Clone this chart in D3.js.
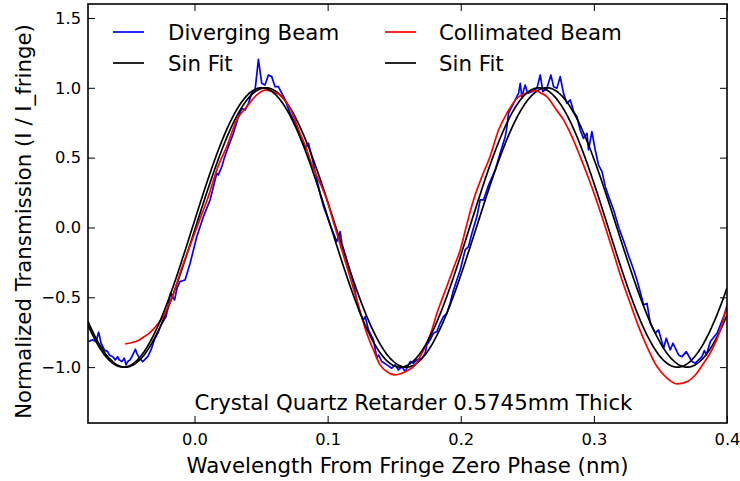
<!DOCTYPE html>
<html>
<head>
<meta charset="utf-8">
<script src="https://cdn.jsdelivr.net/npm/d3@7"></script>
<style>
  html, body { margin: 0; padding: 0; background: #fff; }
  svg { display: block; font-family: "DejaVu Sans", sans-serif; }
</style>
</head>
<body>
<svg id="chart" width="740" height="481"></svg>
<script>
// ---------------- data ----------------
const seriesNames = ["Diverging Beam", "Sin Fit", "Collimated Beam", "Sin Fit"];
const xTicks = [0.0, 0.1, 0.2, 0.3, 0.4];
const yTicks = [-1.0, -0.5, 0.0, 0.5, 1.0, 1.5];
const annotation = "Crystal Quartz Retarder 0.5745mm Thick";
const xTitle = "Wavelength From Fringe Zero Phase (nm)";
const yTitle = "Normalized Transmission (I / I_fringe)";

// Diverging beam measurement (wavelength nm, normalized transmission)
const divergingX = [-0.0795,-0.0765,-0.074,-0.072,-0.0702,-0.0677,-0.0652,-0.064,-0.0614,-0.0595,-0.0577,-0.0565,-0.0545,-0.0527,-0.0514,-0.0502,-0.0484,-0.0464,-0.0444,-0.0434,-0.0414,-0.0389,-0.0351,-0.0327,-0.0302,-0.0276,-0.0251,-0.0214,-0.0197,-0.018,-0.015,-0.013,-0.0109,-0.0071,-0.0033,0.0017,0.0067,0.0117,0.0167,0.0179,0.0205,0.0225,0.0254,0.0292,0.033,0.0355,0.038,0.0405,0.043,0.0455,0.048,0.0505,0.053,0.0555,0.058,0.0605,0.063,0.0656,0.0681,0.0718,0.0768,0.0806,0.0831,0.0856,0.0881,0.0918,0.0944,0.0969,0.1006,0.1044,0.1069,0.1094,0.1107,0.1144,0.1194,0.1219,0.1244,0.1269,0.1282,0.1307,0.1344,0.137,0.1382,0.1407,0.1445,0.1482,0.1507,0.1532,0.1558,0.1582,0.1607,0.162,0.1645,0.167,0.1708,0.1733,0.1745,0.177,0.1795,0.1821,0.1845,0.187,0.1896,0.192,0.1945,0.1996,0.2033,0.2058,0.2084,0.2121,0.2146,0.2171,0.2208,0.2221,0.2259,0.2296,0.2334,0.2347,0.2359,0.2384,0.2409,0.2434,0.2447,0.2459,0.2484,0.2502,0.2535,0.2572,0.2597,0.2617,0.2647,0.2677,0.2697,0.2722,0.2747,0.2772,0.2797,0.2823,0.2848,0.2873,0.2897,0.2922,0.2948,0.296,0.2985,0.301,0.3035,0.3061,0.3086,0.3111,0.315,0.319,0.3225,0.326,0.329,0.3324,0.3374,0.3399,0.3424,0.3461,0.3486,0.3524,0.3544,0.3574,0.3594,0.3636,0.3662,0.3694,0.3737,0.3762,0.3812,0.383,0.3845,0.3875,0.3925,0.3975,0.4];
const divergingY = [-0.817,-0.805,-0.817,-0.75,-0.829,-0.877,-0.889,-0.913,-0.925,-0.948,-0.925,-0.948,-0.96,-0.936,-0.984,-0.96,-0.948,-0.913,-0.872,-0.9,-0.936,-0.96,-0.925,-0.877,-0.805,-0.757,-0.698,-0.638,-0.56,-0.47,-0.52,-0.43,-0.388,-0.376,-0.256,-0.066,0.078,0.197,0.388,0.376,0.435,0.5,0.579,0.674,0.793,0.853,0.841,0.889,0.96,0.984,1.204,1.032,1.02,1.092,1.08,1.008,1.008,0.96,0.913,0.818,0.722,0.626,0.567,0.603,0.507,0.35,0.24,0.15,0.054,-0.041,-0.101,-0.03,-0.113,-0.233,-0.399,-0.52,-0.614,-0.662,-0.638,-0.734,-0.805,-0.936,-0.913,-0.96,-0.984,-1.008,-0.984,-1.02,-0.996,-1.032,-0.984,-0.96,-0.972,-0.948,-0.936,-0.9,-0.841,-0.805,-0.757,-0.745,-0.686,-0.638,-0.614,-0.543,-0.45,-0.304,-0.161,-0.137,-0.041,0.078,0.197,0.197,0.3,0.33,0.412,0.531,0.65,0.722,0.818,0.865,0.913,0.96,1.032,0.936,1.02,0.96,0.972,0.996,1.092,0.972,0.996,1.092,1.008,0.996,1.08,0.96,0.889,0.913,0.829,0.793,0.698,0.638,0.674,0.555,0.686,0.555,0.447,0.4,0.292,0.221,0.12,-0.01,-0.1,-0.2,-0.28,-0.376,-0.555,-0.543,-0.686,-0.757,-0.734,-0.865,-0.793,-0.877,-0.829,-0.913,-0.925,-0.889,-0.96,-0.972,-0.925,-0.882,-0.913,-0.817,-0.757,-0.638,-0.567];

// Collimated beam measurement
const collimatedX = [-0.052,-0.049,-0.0452,-0.0414,-0.0377,-0.0339,-0.0302,-0.0276,-0.0251,-0.0227,-0.0201,-0.0176,-0.01,-0.0009,0.005,0.0104,0.0117,0.0167,0.0242,0.0318,0.0393,0.0468,0.053,0.0593,0.0656,0.0718,0.0793,0.0844,0.0868,0.0944,0.0994,0.1044,0.11,0.116,0.1219,0.1294,0.1344,0.1394,0.1445,0.1507,0.1558,0.1607,0.1658,0.1695,0.1745,0.1783,0.1821,0.1845,0.19,0.195,0.1996,0.2045,0.2096,0.2159,0.2221,0.2284,0.2347,0.2422,0.2497,0.2559,0.2597,0.2647,0.271,0.2772,0.2835,0.2897,0.296,0.301,0.306,0.311,0.316,0.3211,0.3273,0.3336,0.3399,0.3474,0.3549,0.3624,0.3699,0.3762,0.3824,0.3887,0.395,0.4];
const collimatedY = [-0.834,-0.829,-0.82,-0.805,-0.781,-0.757,-0.721,-0.691,-0.662,-0.626,-0.567,-0.519,-0.303,-0.066,0.084,0.221,0.26,0.412,0.58,0.77,0.865,0.949,0.984,0.972,0.936,0.853,0.674,0.555,0.483,0.317,0.197,0.038,-0.14,-0.33,-0.519,-0.757,-0.877,-0.984,-1.032,-1.056,-1.044,-1.02,-0.984,-0.925,-0.829,-0.734,-0.614,-0.55,-0.41,-0.28,-0.161,0.02,0.197,0.364,0.51,0.698,0.818,0.925,0.965,0.979,0.965,0.936,0.853,0.77,0.65,0.507,0.352,0.221,0.08,-0.07,-0.22,-0.376,-0.543,-0.71,-0.853,-0.996,-1.079,-1.12,-1.104,-1.056,-0.972,-0.877,-0.734,-0.555];

// Sin fit parameters: [diverging fit, collimated fit]
const fitAmplitude = [1.0, 1.0];
const fitCenter = [0.0535, 0.0505];   // wavelength of a maximum (nm)
const fitPeriod = [0.2110, 0.2082];   // fringe period (nm)

// ---------------- layout ----------------
const W = 740, H = 481;
const margin = {top: 4, right: 13, bottom: 58, left: 88};
const svg = d3.select("#chart");
const x = d3.scaleLinear().domain([-0.08, 0.4]).range([margin.left, W - margin.right]);
const y = d3.scaleLinear().domain([-1.4, 1.6]).range([H - margin.bottom, margin.top]);
const labelFont = "21.3px";

svg.append("defs").append("clipPath").attr("id", "clip")
  .append("rect")
  .attr("x", x.range()[0]).attr("y", y.range()[1])
  .attr("width", x.range()[1] - x.range()[0])
  .attr("height", y.range()[0] - y.range()[1]);

const fmt = d3.format(".1f");
const tickLen = 7;

// axes (ticks inside on all four sides)
const gB = svg.append("g").attr("transform", `translate(0,${y.range()[0]})`)
  .call(d3.axisBottom(x).tickValues(xTicks).tickFormat(fmt).tickSizeInner(-tickLen).tickSizeOuter(0).tickPadding(10));
const gT = svg.append("g").attr("transform", `translate(0,${y.range()[1]})`)
  .call(d3.axisTop(x).tickValues(xTicks).tickFormat("").tickSizeInner(-tickLen).tickSizeOuter(0));
const gL = svg.append("g").attr("transform", `translate(${x.range()[0]},0)`)
  .call(d3.axisLeft(y).tickValues(yTicks).tickFormat(fmt).tickSizeInner(-tickLen).tickSizeOuter(0).tickPadding(7));
const gR = svg.append("g").attr("transform", `translate(${x.range()[1]},0)`)
  .call(d3.axisRight(y).tickValues(yTicks).tickFormat("").tickSizeInner(-tickLen).tickSizeOuter(0));

[gB, gT, gL, gR].forEach(g => {
  g.select(".domain").remove();
  g.selectAll(".tick line").attr("stroke", "#000").attr("stroke-width", 1);
  g.selectAll(".tick text").attr("fill", "#000").style("font-size", "16.3px").style("font-family", "DejaVu Sans");
});

// series
const plot = svg.append("g").attr("clip-path", "url(#clip)");
const lineLinear = d3.line().x(d => x(d[0])).y(d => y(d[1]));
const lineSmooth = d3.line().x(d => x(d[0])).y(d => y(d[1])).curve(d3.curveMonotoneX);

function fitPoints(i) {
  return d3.range(x.domain()[0], x.domain()[1] + 0.0005, 0.001)
    .map(w => [w, fitAmplitude[i] * Math.cos(2 * Math.PI * (w - fitCenter[i]) / fitPeriod[i])]);
}

const divergingData = divergingX.map((v, i) => [v, divergingY[i]]);
const collimatedData = collimatedX.map((v, i) => [v, collimatedY[i]]);

plot.append("path").datum(divergingData).attr("d", lineLinear)
  .attr("fill", "none").attr("stroke", "#0000ff").attr("stroke-width", 1.7).attr("stroke-linejoin", "round");
plot.append("path").datum(fitPoints(0)).attr("d", lineLinear)
  .attr("fill", "none").attr("stroke", "#000").attr("stroke-width", 1.7);
plot.append("path").datum(collimatedData).attr("d", lineSmooth)
  .attr("fill", "none").attr("stroke", "#ff0000").attr("stroke-width", 1.7).attr("stroke-linejoin", "round");
plot.append("path").datum(fitPoints(1)).attr("d", lineLinear)
  .attr("fill", "none").attr("stroke", "#000").attr("stroke-width", 1.7);

// frame
svg.append("rect")
  .attr("x", x.range()[0]).attr("y", y.range()[1])
  .attr("width", x.range()[1] - x.range()[0])
  .attr("height", y.range()[0] - y.range()[1])
  .attr("fill", "none").attr("stroke", "#000").attr("stroke-width", 1.6);

// legend (two columns, no frame)
const legendColors = ["#0000ff", "#000", "#ff0000", "#000"];
const legendCols = [{lx: 113, tx: 168}, {lx: 385, tx: 439}];
const legendRows = [32, 63];
seriesNames.forEach((name, i) => {
  const col = legendCols[Math.floor(i / 2)];
  const ry = legendRows[i % 2];
  svg.append("line").attr("x1", col.lx).attr("x2", col.lx + 31).attr("y1", ry).attr("y2", ry)
    .attr("stroke", legendColors[i]).attr("stroke-width", 1.7);
  svg.append("text").attr("x", col.tx).attr("y", ry + 7.5)
    .style("font-size", labelFont).attr("fill", "#000").text(name);
});

// annotation
svg.append("text").attr("x", 413.5).attr("y", 410).attr("text-anchor", "middle")
  .style("font-size", labelFont).attr("fill", "#000").text(annotation);

// axis titles
svg.append("text").attr("x", (x.range()[0] + x.range()[1]) / 2).attr("y", 473)
  .attr("text-anchor", "middle").style("font-size", labelFont).attr("fill", "#000").text(xTitle);
svg.append("text")
  .attr("transform", `translate(31,${(y.range()[0] + y.range()[1]) / 2 + 8}) rotate(-90)`)
  .attr("text-anchor", "middle").style("font-size", labelFont).attr("fill", "#000").text(yTitle);
</script>
</body>
</html>
